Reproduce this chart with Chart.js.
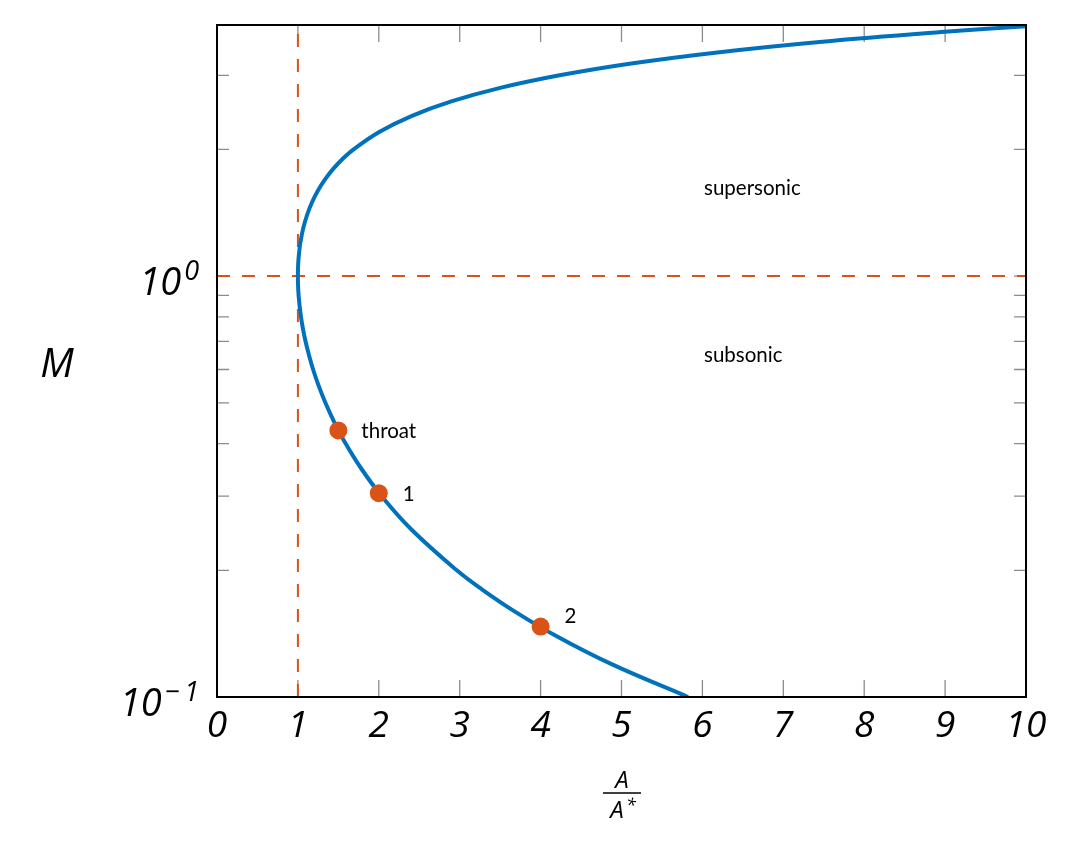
<!DOCTYPE html>
<html>
<head>
<meta charset="utf-8">
<script src="https://cdn.jsdelivr.net/npm/chart.js@4/dist/chart.umd.min.js"></script>
<style>
  body { margin: 0; background: #fff; }
</style>
</head>
<body>
<canvas id="nozzle" width="1090" height="856"></canvas>
<script>
// area ratio A/A* along the curve, and the Mach number at each point
const curveArea = [5.822, 4.864, 4.182, 3.673, 3.278, 2.964, 2.403, 2.035, 1.778, 1.590, 1.449, 1.340,
  1.255, 1.188, 1.136, 1.094, 1.062, 1.038, 1.021, 1.009, 1.002, 1.000, 1.002, 1.008, 1.018, 1.030,
  1.066, 1.115, 1.176, 1.250, 1.338, 1.439, 1.555, 1.688, 2.005, 2.403, 2.896, 3.500, 4.235, 5.121,
  6.184, 7.450, 8.951, 10.0];
const curveMach = [0.10, 0.12, 0.14, 0.16, 0.18, 0.20, 0.25, 0.30, 0.35, 0.40, 0.45, 0.50,
  0.55, 0.60, 0.65, 0.70, 0.75, 0.80, 0.85, 0.90, 0.95, 1.00, 1.05, 1.10, 1.15, 1.20,
  1.30, 1.40, 1.50, 1.60, 1.70, 1.80, 1.90, 2.00, 2.20, 2.40, 2.60, 2.80, 3.00, 3.20,
  3.40, 3.60, 3.80, 3.923];

const markerArea = [1.5, 2, 4];
const markerMach = [0.43, 0.305, 0.147];
const markerLabels = ['throat', '1', '2'];

const regionLabels = ['supersonic', 'subsonic'];
const regionArea = [6.02, 6.02];
const regionMach = [1.62, 0.649];

const xTicks = [0, 1, 2, 3, 4, 5, 6, 7, 8, 9, 10];
const yTicks = [0.1, 0.2, 0.3, 0.4, 0.5, 0.6, 0.7, 0.8, 0.9, 1, 2, 3];
const yLabelValues = [0.1, 1];
const yLabelExp = ['\u2212\u20091', '0'];

const yMin = 0.1, yMax = 3.95;

const blue = '#0072BD';
const orange = '#D95319';

function pts(xs, ys) {
  return xs.map((x, i) => ({ x: x, y: ys[i] }));
}

const frame = {
  id: 'frame',
  beforeDatasetsDraw(chart) {
    const { ctx, chartArea: a, scales: { x, y } } = chart;
    ctx.save();
    ctx.strokeStyle = '#8c8c8c';
    ctx.lineWidth = 1.3;
    ctx.beginPath();
    xTicks.forEach(v => {
      const px = x.getPixelForValue(v);
      ctx.moveTo(px, a.bottom); ctx.lineTo(px, a.bottom - 17);
      ctx.moveTo(px, a.top); ctx.lineTo(px, a.top + 17);
    });
    yTicks.forEach(v => {
      const py = y.getPixelForValue(v);
      ctx.moveTo(a.left, py); ctx.lineTo(a.left + 12, py);
      ctx.moveTo(a.right, py); ctx.lineTo(a.right - 12, py);
    });
    ctx.stroke();
    ctx.restore();
  },
  afterDatasetsDraw(chart) {
    const { ctx, chartArea: a, scales: { x, y } } = chart;
    ctx.save();
    ctx.strokeStyle = '#000';
    ctx.lineWidth = 2;
    ctx.strokeRect(a.left, a.top, a.right - a.left, a.bottom - a.top);

    // point and region labels
    ctx.fillStyle = '#000';
    ctx.font = '20.5px Lato';
    ctx.textBaseline = 'middle';
    ctx.textAlign = 'left';
    const offs = [[23, 1], [24, 1], [24, -10]];
    markerLabels.forEach((s, i) => {
      ctx.fillText(s, x.getPixelForValue(markerArea[i]) + offs[i][0], y.getPixelForValue(markerMach[i]) + offs[i][1]);
    });
    regionLabels.forEach((s, i) => {
      ctx.fillText(s, x.getPixelForValue(regionArea[i]), y.getPixelForValue(regionMach[i]));
    });

    // y tick labels with exponents
    ctx.textBaseline = 'alphabetic';
    ctx.textAlign = 'right';
    yLabelValues.forEach((v, i) => {
      const py = y.getPixelForValue(v);
      ctx.font = 'italic 27px "Open Sans"';
      const ew = ctx.measureText(yLabelExp[i]).width;
      ctx.fillText(yLabelExp[i], 199, py + 4);
      ctx.font = 'italic 38px "Open Sans"';
      ctx.fillText('10', 199 - ew - 3, py + 19);
    });

    // axis titles
    ctx.textAlign = 'center';
    ctx.font = 'italic 40px "Open Sans"';
    ctx.fillText('M', 57, 377);
    ctx.font = 'italic 24px "Open Sans"';
    ctx.fillText('A', 622, 788);
    ctx.fillText('A', 617, 818);
    ctx.font = 'italic 18px "Open Sans"';
    ctx.fillText('*', 631, 811);
    ctx.beginPath();
    ctx.lineWidth = 1.3;
    ctx.moveTo(603, 793); ctx.lineTo(641, 793);
    ctx.stroke();
    ctx.restore();
  }
};

new Chart(document.getElementById('nozzle').getContext('2d'), {
  type: 'scatter',
  data: {
    datasets: [
      {
        data: pts(markerArea, markerMach),
        pointRadius: 9, pointHoverRadius: 9,
        backgroundColor: orange, borderColor: orange, borderWidth: 0,
        order: 0
      },
      {
        data: pts(curveArea, curveMach),
        showLine: true, pointRadius: 0, tension: 0.4,
        borderColor: blue, borderWidth: 4,
        order: 1
      },
      {
        data: [{ x: 1, y: yMin }, { x: 1, y: yMax }],
        showLine: true, pointRadius: 0,
        borderColor: orange, borderWidth: 2, borderDash: [13, 12],
        order: 2
      },
      {
        data: [{ x: 0, y: 1 }, { x: 10, y: 1 }],
        showLine: true, pointRadius: 0,
        borderColor: orange, borderWidth: 2, borderDash: [13, 12],
        order: 2
      }
    ]
  },
  options: {
    responsive: false,
    animation: false,
    layout: { padding: { left: 0, top: 25, right: 64, bottom: 0 } },
    plugins: { legend: { display: false }, tooltip: { enabled: false } },
    scales: {
      x: {
        type: 'linear', min: 0, max: 10,
        grid: { display: false, drawTicks: false },
        border: { display: false },
        ticks: {
          stepSize: 1, padding: 7, color: '#000',
          font: { family: 'Open Sans', style: 'italic', size: 37 }
        },
        afterFit(s) { s.height = 159; }
      },
      y: {
        type: 'logarithmic', min: yMin, max: yMax,
        grid: { display: false, drawTicks: false },
        border: { display: false },
        ticks: { display: false },
        afterFit(s) { s.width = 217; }
      }
    }
  },
  plugins: [frame]
});
</script>
</body>
</html>
